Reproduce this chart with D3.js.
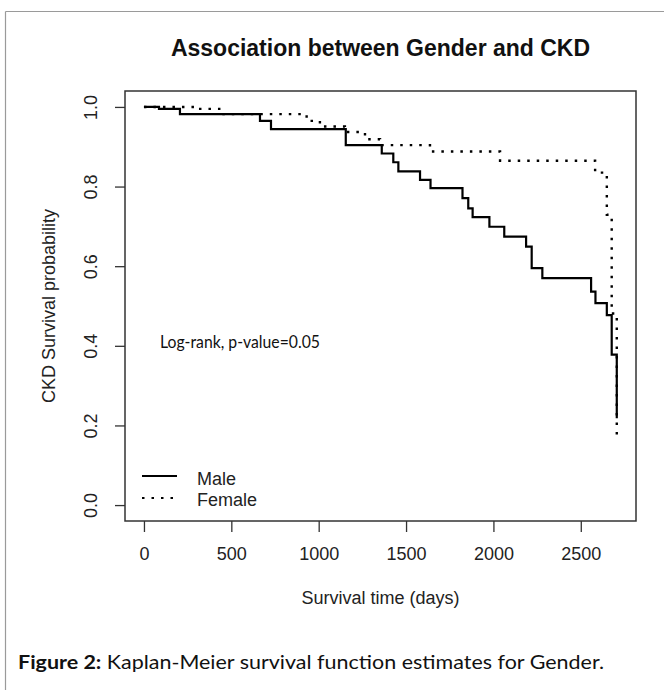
<!DOCTYPE html>
<html>
<head>
<meta charset="utf-8">
<script src="https://cdn.jsdelivr.net/npm/d3@7"></script>
<style>
  body { margin: 0; background: #fff; }
  svg { display: block; }
  .axis text { font-family: "Liberation Sans", Arial, sans-serif; font-size: 18px; fill: #222; }
  .axis line { stroke: #333; stroke-width: 1.3; }
</style>
</head>
<body>
<div id="chart"></div>
<script>
/* Kaplan-Meier curves: Gender and CKD */

// survival steps (time in days, survival probability)
const maleTime = [0, 86, 206, 664, 727, 1155, 1361, 1427, 1456, 1580, 1640, 1823, 1856, 1881, 1977, 2062, 2187, 2219, 2280, 2559, 2584, 2649, 2677, 2706];
const maleSurv = [1.0, 0.995, 0.982, 0.965, 0.944, 0.904, 0.883, 0.861, 0.838, 0.817, 0.796, 0.771, 0.745, 0.723, 0.699, 0.674, 0.649, 0.595, 0.570, 0.536, 0.507, 0.477, 0.378, 0.218];

const femaleTime = [0, 292, 445, 931, 1007, 1150, 1265, 1351, 1637, 2038, 2582, 2649, 2677, 2706];
const femaleSurv = [1.0, 0.995, 0.982, 0.965, 0.951, 0.937, 0.919, 0.904, 0.888, 0.865, 0.835, 0.729, 0.481, 0.17];

const xTicks = [0, 500, 1000, 1500, 2000, 2500];
const yTicks = [0, 0.2, 0.4, 0.6, 0.8, 1.0];
const seriesNames = ["Male", "Female"];

// page size and plot box
const W = 664, H = 690;
const box = {left: 125, right: 636, top: 91, bottom: 521};

const svg = d3.select("#chart")
  .append("svg")
  .attr("width", W)
  .attr("height", H);

// thin grey frame of the figure (top and left only show)
svg.append("line")
  .attr("x1", 5.5).attr("x2", W).attr("y1", 11.5).attr("y2", 11.5)
  .attr("stroke", "#9a9a9a").attr("stroke-width", 1.2);
svg.append("line")
  .attr("x1", 5.5).attr("x2", 5.5).attr("y1", 11.5).attr("y2", H)
  .attr("stroke", "#9a9a9a").attr("stroke-width", 1.2);

// scales, R style 4% padding
const x = d3.scaleLinear().domain([-108.5, 2816]).range([box.left, box.right]);
const y = d3.scaleLinear().domain([-0.04, 1.04]).range([box.bottom, box.top]);

// axes
const xApp = svg.append("g")
  .attr("class", "x axis")
  .attr("transform", "translate(0," + box.bottom + ")")
  .call(d3.axisBottom(x).tickValues(xTicks).tickSize(11).tickSizeOuter(0).tickFormat(d3.format("d")));
xApp.select(".domain").remove();
xApp.selectAll("text").attr("y", 39).attr("dy", 0);

const yApp = svg.append("g")
  .attr("class", "y axis")
  .attr("transform", "translate(" + box.left + ",0)")
  .call(d3.axisLeft(y).tickValues(yTicks).tickSize(10).tickSizeOuter(0).tickFormat(d3.format(".1f")));
yApp.select(".domain").remove();
yApp.selectAll("text")
  .attr("x", 0).attr("dy", 0)
  .attr("text-anchor", "middle")
  .attr("transform", "translate(-28,0) rotate(-90)");

// plot box
svg.append("rect")
  .attr("x", box.left).attr("y", box.top)
  .attr("width", box.right - box.left).attr("height", box.bottom - box.top)
  .attr("fill", "none").attr("stroke", "#333").attr("stroke-width", 1.5);

// titles
svg.append("text")
  .attr("x", (box.left + box.right) / 2).attr("y", 56)
  .attr("text-anchor", "middle")
  .style("font-family", "Liberation Sans, Arial, sans-serif")
  .style("font-size", "23px").style("font-weight", "bold").style("fill", "#111")
  .text("Association between Gender and CKD");

svg.append("text")
  .attr("x", (box.left + box.right) / 2).attr("y", 604)
  .attr("text-anchor", "middle")
  .style("font-family", "Liberation Sans, Arial, sans-serif")
  .style("font-size", "18px").style("fill", "#222")
  .text("Survival time (days)");

svg.append("text")
  .attr("transform", "translate(55," + (box.top + box.bottom) / 2 + ") rotate(-90)")
  .attr("text-anchor", "middle")
  .style("font-family", "Liberation Sans, Arial, sans-serif")
  .style("font-size", "18px").style("fill", "#222")
  .text("CKD Survival probability");

// step lines
const line = d3.line()
  .x(function(d) { return x(d[0]); })
  .y(function(d) { return y(d[1]); })
  .curve(d3.curveStepAfter);

const male = d3.zip(maleTime, maleSurv);
const female = d3.zip(femaleTime, femaleSurv);

svg.append("path")
  .attr("fill", "none").attr("stroke", "#000").attr("stroke-width", 2.2)
  .attr("d", line(male));

svg.append("path")
  .attr("fill", "none").attr("stroke", "#000").attr("stroke-width", 2.4)
  .attr("stroke-dasharray", "2.5,7")
  .attr("d", line(female));

// log-rank note
svg.append("text")
  .attr("x", 160).attr("y", 348)
  .attr("textLength", 160).attr("lengthAdjust", "spacingAndGlyphs")
  .style("font-family", "Lato, Open Sans, sans-serif")
  .style("font-size", "16.5px").style("fill", "#111")
  .text("Log-rank, p-value=0.05");

// legend
const legend = svg.append("g");
const legendRows = [{name: seriesNames[0], dash: null, yy: 476, ty: 485},
                    {name: seriesNames[1], dash: "2.5,7", yy: 498, ty: 506}];
legendRows.forEach(function(r) {
  legend.append("line")
    .attr("x1", 142).attr("x2", 177).attr("y1", r.yy).attr("y2", r.yy)
    .attr("stroke", "#000").attr("stroke-width", 2.2)
    .attr("stroke-dasharray", r.dash);
  legend.append("text")
    .attr("x", 197).attr("y", r.ty)
    .style("font-family", "Liberation Sans, Arial, sans-serif")
    .style("font-size", "18px").style("fill", "#222")
    .text(r.name);
});

// caption
const cap = svg.append("text")
  .attr("x", 18).attr("y", 669)
  .attr("textLength", 586).attr("lengthAdjust", "spacingAndGlyphs")
  .style("font-family", "Lato, Open Sans, sans-serif")
  .style("font-size", "19px").style("fill", "#111");
cap.append("tspan").style("font-weight", "bold").text("Figure 2:");
cap.append("tspan").text(" Kaplan-Meier survival function estimates for Gender.");
</script>
</body>
</html>
